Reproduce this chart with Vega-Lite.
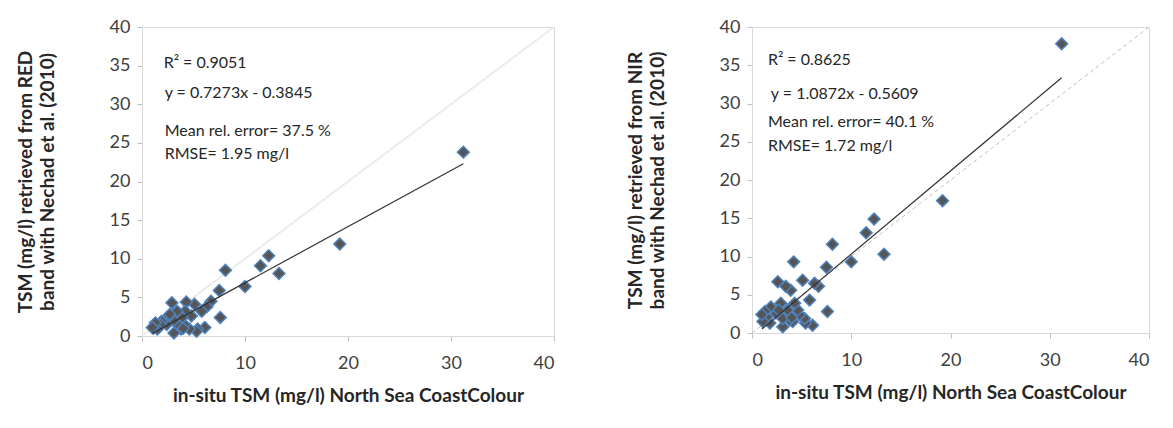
{
  "$schema": "https://vega.github.io/schema/vega-lite/v6.json",
  "background": "white",
  "padding": {"left": 15, "top": 17, "right": 5, "bottom": 5},
  "spacing": 66,
  "config": {
    "font": "Lato",
    "view": {"stroke": "#d9d9d9", "strokeWidth": 1},
    "axis": {
      "grid": false,
      "domainColor": "#d9d9d9",
      "tickColor": "#bfbfbf",
      "tickSize": 5,
      "labelFont": "Lato",
      "labelFontSize": 18,
      "labelColor": "#404040",
      "titleFont": "Lato",
      "titleFontSize": 19,
      "titleFontWeight": "bold",
      "titleColor": "#262626"
    },
    "axisX": {"labelPadding": 13, "titlePadding": 14},
    "axisY": {"labelPadding": 7, "titlePadding": 52, "titleLineHeight": 22}
  },
  "datasets": {
    "pts": [
      {"insitu": 31.2, "red": 23.8, "nir": 37.8},
      {"insitu": 19.2, "red": 11.9, "nir": 17.3},
      {"insitu": 13.3, "red": 8.1, "nir": 10.3},
      {"insitu": 12.3, "red": 10.4, "nir": 14.9},
      {"insitu": 11.5, "red": 9.1, "nir": 13.1},
      {"insitu": 10.0, "red": 6.4, "nir": 9.3},
      {"insitu": 8.1, "red": 8.5, "nir": 11.6},
      {"insitu": 7.5, "red": 5.9, "nir": 8.6},
      {"insitu": 7.6, "red": 2.4, "nir": 2.8},
      {"insitu": 6.7, "red": 4.5, "nir": 6.1},
      {"insitu": 6.3, "red": 3.8, "nir": 6.5},
      {"insitu": 6.1, "red": 1.1, "nir": 1.0},
      {"insitu": 5.8, "red": 3.2, "nir": 4.3},
      {"insitu": 5.4, "red": 0.9, "nir": 1.3},
      {"insitu": 5.1, "red": 4.1, "nir": 6.9},
      {"insitu": 5.3, "red": 0.6, "nir": 1.9},
      {"insitu": 4.8, "red": 2.6, "nir": 2.4},
      {"insitu": 4.6, "red": 0.9, "nir": 3.0},
      {"insitu": 4.3, "red": 4.4, "nir": 3.9},
      {"insitu": 4.2, "red": 3.2, "nir": 9.3},
      {"insitu": 4.1, "red": 1.5, "nir": 1.5},
      {"insitu": 3.9, "red": 2.4, "nir": 5.6},
      {"insitu": 3.8, "red": 0.9, "nir": 1.7},
      {"insitu": 3.6, "red": 1.3, "nir": 3.0},
      {"insitu": 3.4, "red": 3.2, "nir": 6.1},
      {"insitu": 3.1, "red": 0.4, "nir": 0.8},
      {"insitu": 3.1, "red": 2.0, "nir": 1.9},
      {"insitu": 2.9, "red": 4.3, "nir": 3.9},
      {"insitu": 2.6, "red": 2.6, "nir": 6.7},
      {"insitu": 2.4, "red": 1.5, "nir": 2.6},
      {"insitu": 1.9, "red": 1.9, "nir": 3.4},
      {"insitu": 1.8, "red": 1.5, "nir": 1.3},
      {"insitu": 1.5, "red": 0.9, "nir": 2.1},
      {"insitu": 1.3, "red": 1.7, "nir": 2.8},
      {"insitu": 1.1, "red": 1.0, "nir": 1.5},
      {"insitu": 1.0, "red": 1.1, "nir": 2.4},
      {"insitu": 4.0, "red": 1.0, "nir": 2.0},
      {"insitu": 2.7, "red": 2.8, "nir": 3.0}
    ],
    "oneone": [{"x": 0, "y": 0}, {"x": 40, "y": 40}],
    "fitred": [{"x": 1.0, "y": 0.343}, {"x": 31.2, "y": 22.31}],
    "fitnir": [{"x": 1.0, "y": 0.526}, {"x": 31.2, "y": 33.36}],
    "txtred": [
      {"t": "R² = 0.9051", "tx": 2.1, "ty": 35.3},
      {"t": "y = 0.7273x - 0.3845", "tx": 2.2, "ty": 31.5},
      {"t": "Mean rel. error= 37.5 %", "tx": 2.2, "ty": 26.5},
      {"t": "RMSE= 1.95 mg/l", "tx": 2.2, "ty": 23.5}
    ],
    "txtnir": [
      {"t": "R² = 0.8625", "tx": 1.6, "ty": 35.7},
      {"t": "y = 1.0872x - 0.5609", "tx": 1.9, "ty": 31.2},
      {"t": "Mean rel. error= 40.1 %", "tx": 1.6, "ty": 27.6},
      {"t": "RMSE= 1.72 mg/l", "tx": 1.6, "ty": 24.4}
    ]
  },
  "hconcat": [
    {
      "width": 412,
      "height": 309,
      "encoding": {
        "x": {"type": "quantitative", "scale": {"domain": [0, 40], "nice": false},
              "axis": {"values": [0, 10, 20, 30, 40], "title": "in-situ TSM (mg/l) North Sea CoastColour"}},
        "y": {"type": "quantitative", "scale": {"domain": [0, 40], "nice": false},
              "axis": {"values": [0, 5, 10, 15, 20, 25, 30, 35, 40], "title": ["TSM (mg/l) retrieved from RED", "band with Nechad et al. (2010)"]}}
      },
      "layer": [
        {
          "data": {"name": "oneone"},
          "mark": {"type": "line", "color": "#ebebeb", "strokeWidth": 2},
          "encoding": {"x": {"field": "x"}, "y": {"field": "y"}}
        },
        {
          "data": {"name": "pts"},
          "mark": {"type": "point", "shape": "diamond", "filled": true, "fill": "#555555", "stroke": "#4f81bd", "strokeWidth": 1.5, "size": 140, "opacity": 1},
          "encoding": {"x": {"field": "insitu"}, "y": {"field": "red"}}
        },
        {
          "data": {"name": "fitred"},
          "mark": {"type": "line", "color": "#333333", "strokeWidth": 1.2},
          "encoding": {"x": {"field": "x"}, "y": {"field": "y"}}
        },
        {
          "data": {"name": "txtred"},
          "mark": {"type": "text", "align": "left", "baseline": "middle", "fontSize": 16, "color": "#262626"},
          "encoding": {"x": {"field": "tx"}, "y": {"field": "ty"}, "text": {"field": "t"}}
        }
      ]
    },
    {
      "width": 397,
      "height": 306,
      "encoding": {
        "x": {"type": "quantitative", "scale": {"domain": [0, 40], "nice": false},
              "axis": {"values": [0, 10, 20, 30, 40], "title": "in-situ TSM (mg/l) North Sea CoastColour"}},
        "y": {"type": "quantitative", "scale": {"domain": [0, 40], "nice": false},
              "axis": {"values": [0, 5, 10, 15, 20, 25, 30, 35, 40], "title": ["TSM (mg/l) retrieved from NIR", "band with Nechad et al. (2010)"]}}
      },
      "layer": [
        {
          "data": {"name": "oneone"},
          "mark": {"type": "line", "color": "#bfbfbf", "strokeWidth": 1, "strokeDash": [4, 3]},
          "encoding": {"x": {"field": "x"}, "y": {"field": "y"}}
        },
        {
          "data": {"name": "pts"},
          "mark": {"type": "point", "shape": "diamond", "filled": true, "fill": "#555555", "stroke": "#4f81bd", "strokeWidth": 1.5, "size": 140, "opacity": 1},
          "encoding": {"x": {"field": "insitu"}, "y": {"field": "nir"}}
        },
        {
          "data": {"name": "fitnir"},
          "mark": {"type": "line", "color": "#333333", "strokeWidth": 1.2},
          "encoding": {"x": {"field": "x"}, "y": {"field": "y"}}
        },
        {
          "data": {"name": "txtnir"},
          "mark": {"type": "text", "align": "left", "baseline": "middle", "fontSize": 16, "color": "#262626"},
          "encoding": {"x": {"field": "tx"}, "y": {"field": "ty"}, "text": {"field": "t"}}
        }
      ]
    }
  ]
}
